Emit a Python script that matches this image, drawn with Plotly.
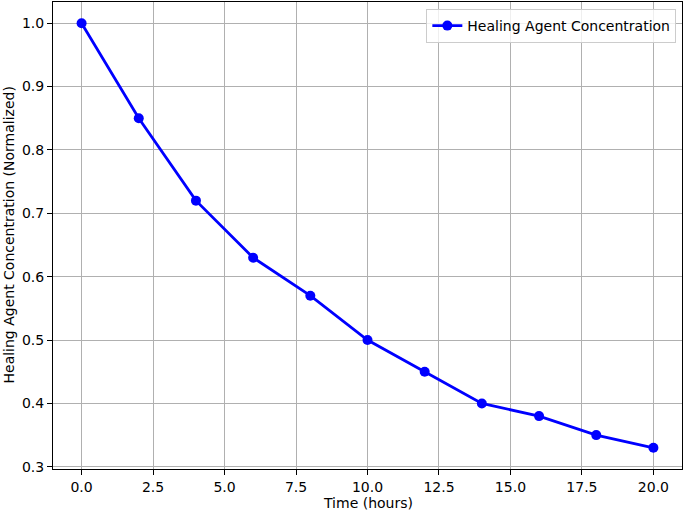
import plotly.graph_objects as go

# Data
time_hours = [0, 2, 4, 6, 8, 10, 12, 14, 16, 18, 20]
concentration = [1.0, 0.85, 0.72, 0.63, 0.57, 0.50, 0.45, 0.40, 0.38, 0.35, 0.33]

x_ticks = [0, 2.5, 5, 7.5, 10, 12.5, 15, 17.5, 20]
y_ticks = [0.3, 0.4, 0.5, 0.6, 0.7, 0.8, 0.9, 1.0]

fig = go.Figure()
fig.add_trace(go.Scatter(
    x=time_hours, y=concentration, mode='lines+markers',
    name='Healing Agent Concentration',
    line=dict(color='blue', width=2.8),
    marker=dict(color='blue', size=10),
))

axis_style = dict(
    showline=True, linecolor='black', linewidth=1.1, mirror=True,
    showgrid=True, gridcolor='#b0b0b0', gridwidth=1,
    ticks='outside', ticklen=5, tickcolor='black', tickwidth=1,
    zeroline=False, tickfont=dict(size=14, color='black'), automargin=False,
)

fig.update_xaxes(range=[-1, 21], tickvals=x_ticks,
                 ticktext=[f'{v:.1f}' for v in x_ticks], **axis_style)
fig.update_yaxes(range=[0.2965, 1.0335], tickvals=y_ticks,
                 ticktext=[f'{v:.1f}' for v in y_ticks], **axis_style)

# axis titles placed as annotations
fig.add_annotation(text='Time (hours)', xref='paper', yref='paper',
                   x=0.5, y=0, yshift=-34, xanchor='center', yanchor='middle',
                   showarrow=False, font=dict(size=14, color='black'))
fig.add_annotation(text='Healing Agent Concentration (Normalized)', xref='paper', yref='paper',
                   x=0, y=0.5, xshift=-45, xanchor='center', yanchor='middle',
                   textangle=-90, showarrow=False, font=dict(size=14, color='black'))

fig.update_layout(
    width=685, height=514,
    margin=dict(l=53, r=3, t=2, b=45, autoexpand=False),
    plot_bgcolor='white', paper_bgcolor='white',
    font=dict(family='DejaVu Sans', size=14, color='black'),
    showlegend=True,
    legend=dict(x=0.991, y=0.985, xanchor='right', yanchor='top',
                bgcolor='rgba(255,255,255,0.8)', bordercolor='#cccccc', borderwidth=1,
                font=dict(size=14)),
)

# drop the page's default body margin so the figure sits at the window corner
fig.write_html("out.html", config={'displayModeBar': False},
               post_script="document.body.style.margin='0';")
